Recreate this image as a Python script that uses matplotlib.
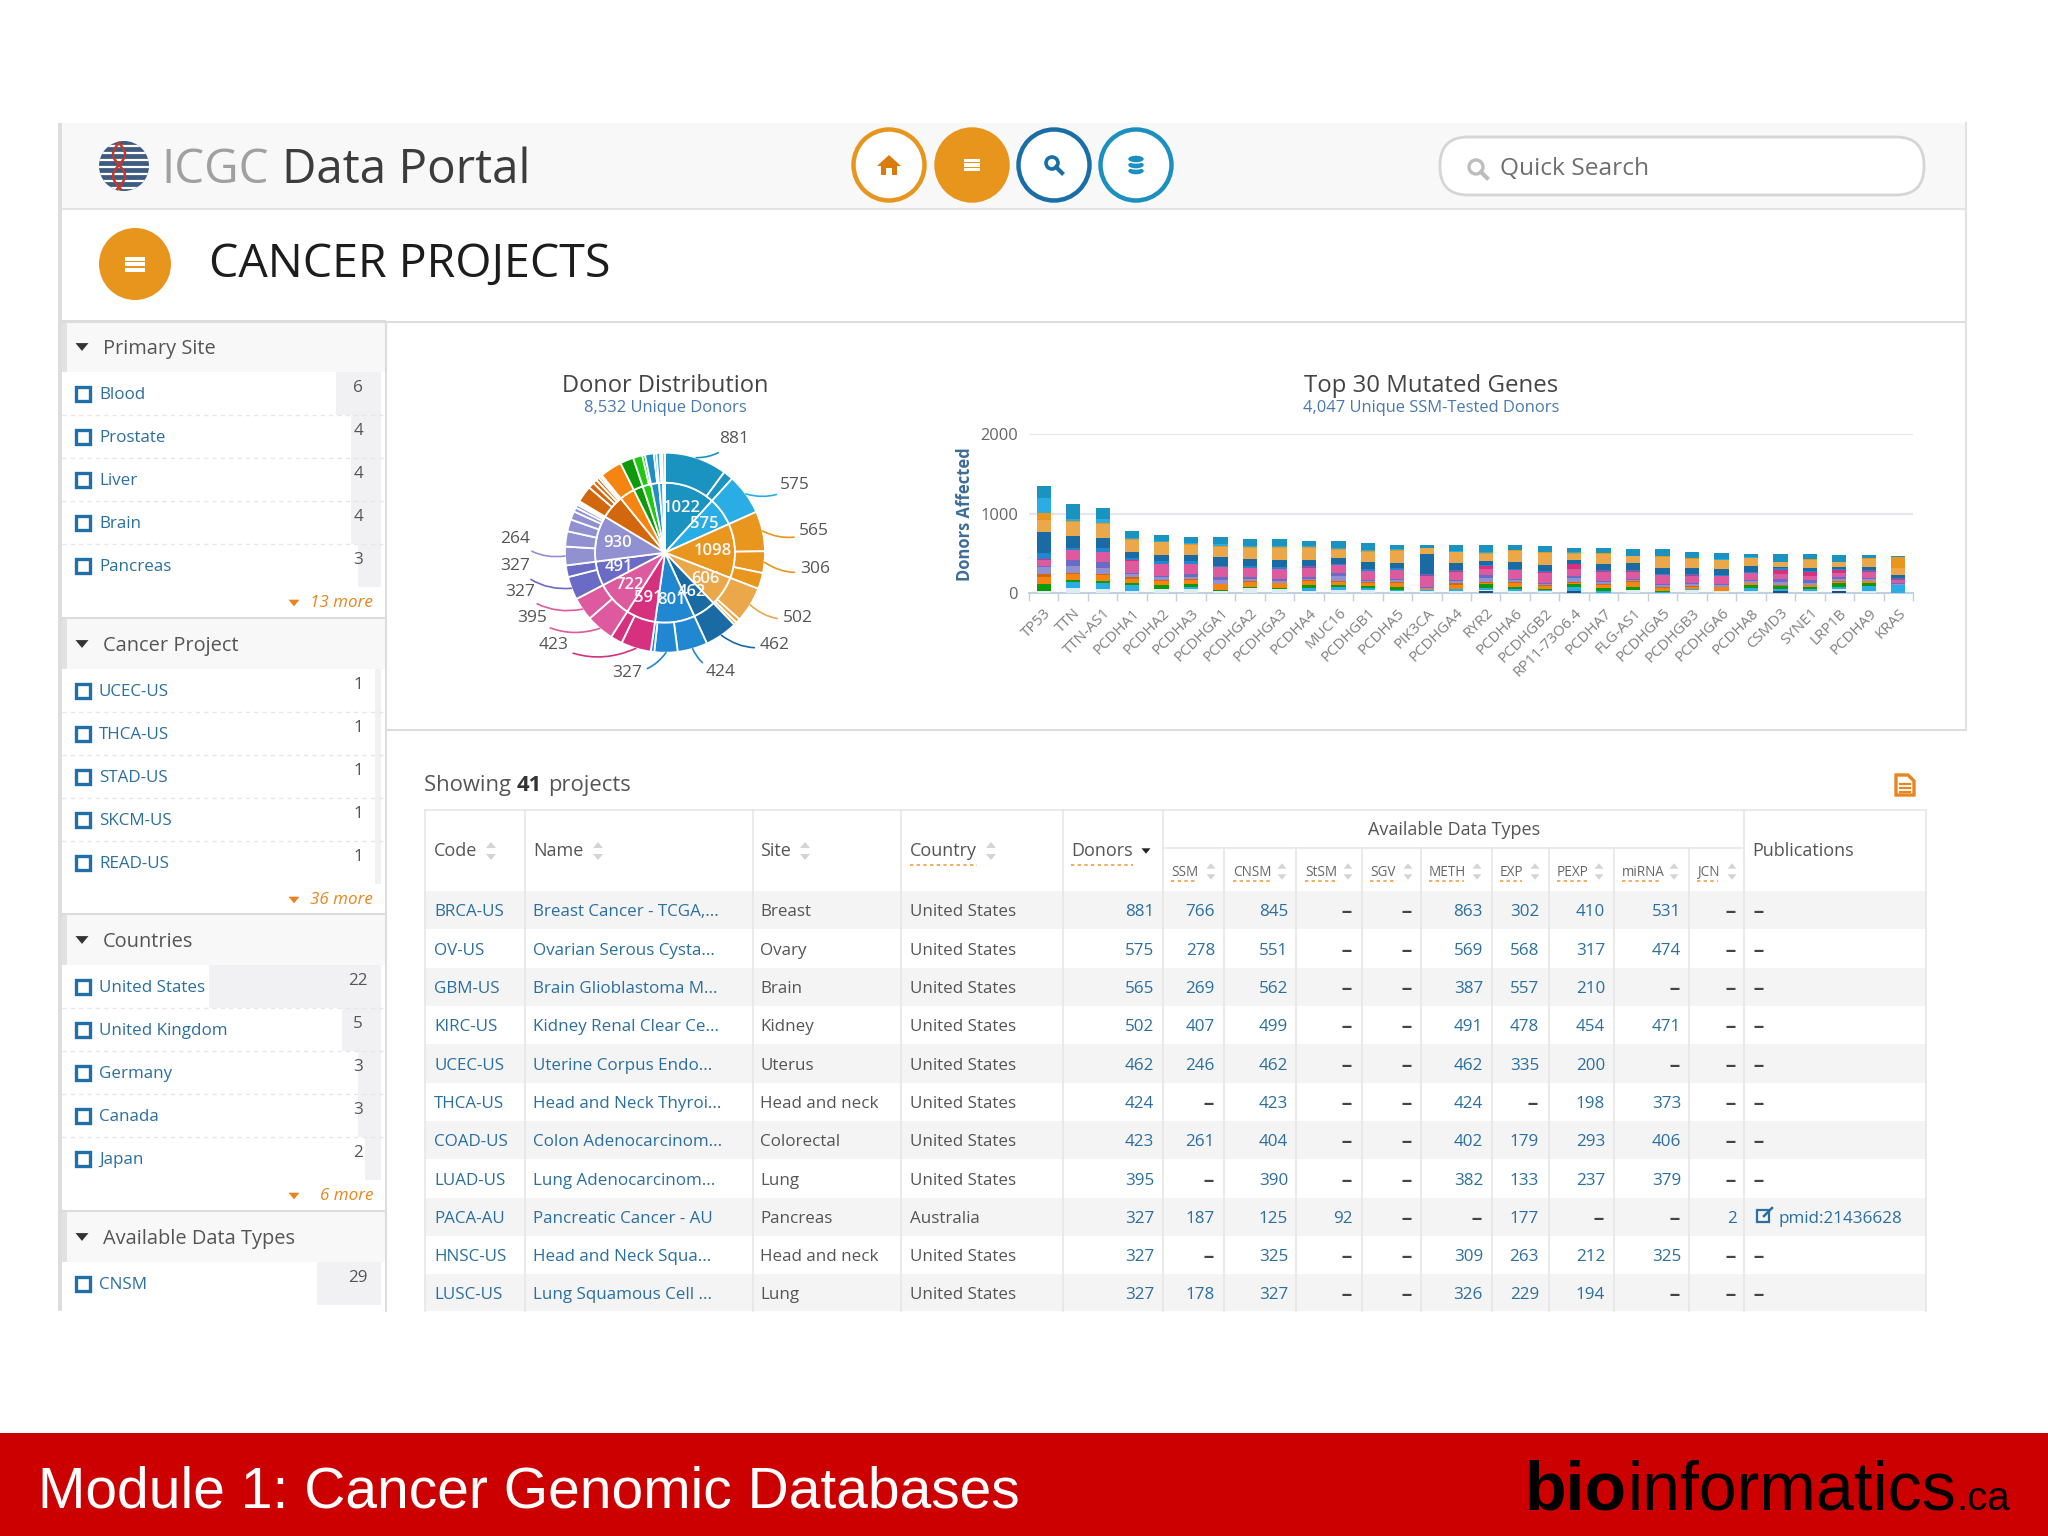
import numpy as np
import matplotlib
matplotlib.use("Agg")
import matplotlib.pyplot as plt
from matplotlib.patches import Rectangle, Circle, Polygon, FancyBboxPatch, Ellipse

# sidebar
site_items = ["Blood", "Prostate", "Liver", "Brain", "Pancreas"]
site_counts = [6, 4, 4, 4, 3]
project_items = ["UCEC-US", "THCA-US", "STAD-US", "SKCM-US", "READ-US"]
project_counts = [1, 1, 1, 1, 1]
country_items = ["United States", "United Kingdom", "Germany", "Canada", "Japan"]
country_counts = [22, 5, 3, 3, 2]
type_items = ["CNSM"]
type_counts = [29]

# donut, inner ring is primary site, outer ring the projects in it
inner_labels = [1022, 575, 1098, 606, 462, 801, 591, 722, 491, 930, "", "", "", "", "", "", ""]
outer_groups = [[881, 141], [575], [565, 306, 227], [502, 62, 42], [462], [424, 327, 50],
                [423, 168], [395, 327], [327, 164], [264, 215, 170, 120, 60, 45, 30, 26],
                [235, 85, 60, 45, 30, 25], [310], [190], [130, 40], [125, 35], [50, 30], [40]]
group_colors = ["#1b93c0", "#29ade4", "#e8961e", "#eaa84a", "#1a6aa3", "#2187d0", "#d6317f", "#de5a9e",
                "#6a6bc4", "#9191d2", "#d2670d", "#f58410", "#0e9a0b", "#20c90f", "#1f8ec4", "#2aa8e0", "#eaa84a"]

# stacked bars
genes = ["TP53", "TTN", "TTN-AS1", "PCDHA1", "PCDHA2", "PCDHA3", "PCDHGA1", "PCDHGA2", "PCDHGA3", "PCDHA4",
         "MUC16", "PCDHGB1", "PCDHA5", "PIK3CA", "PCDHGA4", "RYR2", "PCDHA6", "PCDHGB2", "RP11-73O6.4", "PCDHA7",
         "FLG-AS1", "PCDHGA5", "PCDHGB3", "PCDHGA6", "PCDHA8", "CSMD3", "SYNE1", "LRP1B", "PCDHA9", "KRAS"]
s_blue = [150, 190, 130, 90, 80, 80, 95, 95, 95, 75, 100, 95, 50, 30, 75, 85, 60, 70, 60, 65, 80, 85, 80, 75, 40, 95, 60, 80, 35, 15]
s_sky = [190, 15, 55, 10, 5, 10, 20, 5, 5, 5, 10, 5, 10, 5, 5, 10, 5, 5, 5, 5, 5, 5, 5, 5, 5, 5, 5, 5, 5, 5]
s_orange = [95, 15, 10, 10, 5, 10, 15, 10, 10, 10, 15, 10, 10, 5, 10, 15, 10, 10, 10, 5, 5, 5, 5, 5, 5, 5, 15, 5, 5, 130]
s_lorange = [150, 175, 175, 150, 160, 130, 125, 140, 150, 150, 90, 125, 150, 70, 130, 85, 140, 145, 80, 130, 85, 140, 110, 115, 95, 55, 95, 60, 100, 90]
s_dblue = [260, 150, 135, 80, 80, 80, 110, 85, 90, 80, 75, 90, 70, 255, 85, 55, 85, 75, 45, 75, 90, 75, 85, 75, 75, 20, 35, 20, 45, 45]
s_mblue = [75, 30, 45, 30, 30, 30, 15, 25, 25, 15, 15, 25, 20, 10, 15, 10, 10, 15, 10, 15, 5, 10, 10, 10, 15, 25, 20, 10, 10, 10]
s_magenta = [15, 5, 5, 5, 5, 5, 5, 5, 5, 5, 5, 5, 5, 5, 10, 35, 5, 10, 55, 10, 10, 5, 5, 5, 5, 50, 45, 45, 5, 10]
s_pink = [70, 125, 120, 150, 150, 130, 120, 120, 130, 125, 100, 110, 110, 145, 110, 75, 110, 125, 85, 110, 95, 110, 95, 100, 90, 60, 55, 50, 85, 45]
s_indigo = [20, 75, 70, 15, 15, 30, 40, 15, 15, 15, 40, 15, 15, 10, 15, 45, 15, 15, 35, 15, 15, 15, 15, 15, 15, 35, 35, 20, 15, 10]
s_lav = [85, 80, 75, 40, 35, 30, 50, 30, 25, 20, 55, 15, 25, 10, 25, 50, 25, 20, 50, 30, 15, 25, 25, 15, 20, 45, 25, 35, 20, 5]
s_dorange = [35, 15, 15, 30, 15, 15, 5, 10, 10, 10, 15, 15, 10, 5, 15, 10, 5, 10, 10, 5, 10, 10, 5, 5, 5, 5, 5, 5, 5, 0]
s_orange2 = [90, 80, 75, 50, 50, 45, 70, 60, 55, 45, 45, 30, 50, 10, 50, 15, 50, 35, 10, 45, 65, 35, 25, 50, 25, 5, 15, 10, 20, 5]
s_dgreen = [85, 25, 25, 15, 50, 45, 10, 15, 15, 45, 15, 25, 35, 5, 5, 45, 35, 15, 40, 30, 30, 20, 10, 5, 35, 40, 30, 50, 35, 5]
s_sky2 = [5, 70, 85, 75, 5, 25, 5, 5, 5, 30, 45, 30, 15, 5, 25, 25, 25, 5, 45, 25, 5, 5, 5, 0, 30, 15, 20, 35, 65, 95]
s_pale = [25, 65, 45, 30, 45, 45, 25, 60, 45, 30, 35, 35, 25, 30, 25, 15, 20, 30, 0, 5, 35, 5, 40, 20, 30, 0, 30, 20, 25, 0]
s_navy = [0, 0, 0, 0, 0, 0, 0, 0, 0, 0, 0, 0, 0, 0, 0, 25, 0, 0, 30, 0, 0, 0, 0, 0, 0, 30, 0, 25, 0, 0]

# table
codes = ["BRCA-US", "OV-US", "GBM-US", "KIRC-US", "UCEC-US", "THCA-US", "COAD-US", "LUAD-US", "PACA-AU", "HNSC-US", "LUSC-US"]
names = ["Breast Cancer - TCGA,...", "Ovarian Serous Cysta...", "Brain Glioblastoma M...", "Kidney Renal Clear Ce...",
         "Uterine Corpus Endo...", "Head and Neck Thyroi...", "Colon Adenocarcinom...", "Lung Adenocarcinom...",
         "Pancreatic Cancer - AU", "Head and Neck Squa...", "Lung Squamous Cell ..."]
sites = ["Breast", "Ovary", "Brain", "Kidney", "Uterus", "Head and neck", "Colorectal", "Lung", "Pancreas", "Head and neck", "Lung"]
countries = ["United States"] * 8 + ["Australia"] + ["United States"] * 2
donors = [881, 575, 565, 502, 462, 424, 423, 395, 327, 327, 327]
ssm = [766, 278, 269, 407, 246, "--", 261, "--", 187, "--", 178]
cnsm = [845, 551, 562, 499, 462, 423, 404, 390, 125, 325, 327]
stsm = ["--", "--", "--", "--", "--", "--", "--", "--", 92, "--", "--"]
sgv = ["--"] * 11
meth = [863, 569, 387, 491, 462, 424, 402, 382, "--", 309, 326]
exp_ = [302, 568, 557, 478, 335, "--", 179, 133, 177, 263, 229]
pexp = [410, 317, 210, 454, 200, 198, 293, 237, "--", 212, 194]
mirna = [531, 474, "--", 471, "--", 373, 406, 379, "--", 325, "--"]
jcn = ["--", "--", "--", "--", "--", "--", "--", "--", 2, "--", "--"]

BLUE = "#2a6f9f"
ORANGE = "#e8951e"
GREY = "#555555"
plt.rcParams["font.family"] = ["Open Sans", "DejaVu Sans"]

fig = plt.figure(figsize=(20.48, 15.36), dpi=100, facecolor="white")
ax = fig.add_axes([0, 0, 1, 1])
ax.set_xlim(0, 2048)
ax.set_ylim(1536, 0)
ax.axis("off")


def txt(x, y, s, px, color=GREY, ha="left", **kw):
    # open sans sits a bit high with va=center
    return ax.text(x, y + 0.12 * px, s, fontsize=px * 0.72, color=color, ha=ha, va="center", **kw)


def rect(x0, y0, x1, y1, color, **kw):
    ax.add_patch(Rectangle((x0, y0), x1 - x0, y1 - y0, facecolor=color, edgecolor="none", **kw))


def tri(x, y, size, color, up=False):
    s = -1 if up else 1
    ax.add_patch(Polygon([(x - size, y - s * size * 0.6), (x + size, y - s * size * 0.6), (x, y + s * size * 0.6)],
                         facecolor=color, edgecolor="none"))


def burger(x, y, w, color="white"):
    for dy in (-w * 0.55, 0, w * 0.55):
        rect(x - w, y + dy - w * 0.2, x + w, y + dy + w * 0.2, color)


def after(t, x, y, s, px, color, **kw):
    # next piece of text, placed right after t
    fig.canvas.draw()
    bb = t.get_window_extent()
    return txt(bb.x1 + x, y, s, px, color, **kw)


# frame
rect(58, 123, 1966, 209, "#f8f8f8")
rect(58, 123, 62, 1311, "#dddddd")
ax.plot([62, 1966], [209, 209], color="#e4e4e4", lw=1.5)
ax.plot([62, 1966], [322, 322], color="#dcdcdc", lw=1.5)
ax.plot([1966, 1966], [123, 730], color="#e2e2e2", lw=1.5)
ax.plot([386, 386], [322, 1311], color="#dcdcdc", lw=1.5)
ax.plot([386, 1966], [730, 730], color="#dcdcdc", lw=1.5)

# logo
globe = Circle((124, 166), 25, facecolor="#3d5a80", edgecolor="none")
ax.add_patch(globe)
for yy in np.arange(146, 190, 7):
    ln, = ax.plot([95, 153], [yy, yy], color="white", lw=1.6)
    ln.set_clip_path(globe)
hy = np.linspace(143, 189, 60)
ax.plot(119 + 6 * np.sin((hy - 143) / 7), hy, color="#c0392b", lw=1.8)
ax.plot(119 - 6 * np.sin((hy - 143) / 7), hy, color="#c0392b", lw=1.8)
t = txt(161, 165, "ICGC", 47.5, "#a0a0a0")
after(t, 13, 165, "Data Portal", 47.5, "#3c3c3c")

# nav buttons
for cx, edge, fill in [(889, ORANGE, "white"), (972, ORANGE, ORANGE), (1054, "#1a6ea8", "white"), (1136, "#1a8fc0", "white")]:
    ax.add_patch(Circle((cx, 165), 35.5, facecolor=fill, edgecolor=edge, lw=3.2))
ax.add_patch(Polygon([(889, 155), (901, 166), (897, 166), (897, 175), (892, 175), (892, 168), (886, 168), (886, 175), (881, 175), (881, 166), (877, 166)],
                     facecolor="#d97c0f", edgecolor="none"))
burger(972, 165, 8)
ax.add_patch(Circle((1052, 163), 6, facecolor="none", edgecolor="#1a6ea8", lw=2.6))
ax.plot([1056, 1062], [167, 173], color="#1a6ea8", lw=3)
for yy in (171, 165, 159):
    ax.add_patch(Ellipse((1136, yy), 17, 8, facecolor="#1a8fc0", edgecolor="white", lw=1))

# search
ax.add_patch(FancyBboxPatch((1440, 137), 484, 58, boxstyle="round,pad=0,rounding_size=28", facecolor="white", edgecolor="#d5d5d5", lw=2))
ax.add_patch(Circle((1476, 167), 7, facecolor="none", edgecolor="#bdbdbd", lw=2.4))
ax.plot([1481, 1487], [172, 178], color="#bdbdbd", lw=3)
txt(1500, 166, "Quick Search", 24.5, "#6f6f6f")

# page title
ax.add_patch(Circle((135, 264), 36, facecolor=ORANGE, edgecolor="none"))
burger(135, 264, 10)
txt(209, 259, "CANCER PROJECTS", 46.5, "#1c1c1c")

# sidebar sections
sections = [("Primary Site", 347, site_items, site_counts, [336, 351, 351, 351, 358], "13 more"),
            ("Cancer Project", 644, project_items, project_counts, [375, 375, 375, 375, 375], "36 more"),
            ("Countries", 940, country_items, country_counts, [209, 342, 358, 358, 365], "6 more"),
            ("Available Data Types", 1237, type_items, type_counts, [317], None)]
for title, hy0, items, counts, starts, more in sections:
    rect(62, hy0 - 26, 385, hy0 + 25, "#f8f8f8")
    rect(62, hy0 - 26, 67, hy0 + 25, "#e2e2e2")
    ax.plot([62, 385], [hy0 - 26, hy0 - 26], color="#dcdcdc", lw=1.5)
    tri(82, hy0, 6.5, "#333333")
    txt(103, hy0, title, 20, "#555555")
    for i, (item, n, x0) in enumerate(zip(items, counts, starts)):
        y = hy0 + 46 + 43 * i
        rect(x0, y - 21, 381, min(y + 22, 1311), "#f1f1f3")
        ax.add_patch(Rectangle((76, y - 6), 14, 14, facecolor="white", edgecolor="#1f6fa8", lw=2.4))
        txt(99, y, item, 17, BLUE)
        txt(358, y - 7, str(n), 17, "#555555", ha="center")
        if i < len(items) - 1:
            ax.plot([62, 385], [y + 22, y + 22], color="#e6e6e6", lw=1, ls=(0, (3, 3)))
    if more:
        tri(294, hy0 + 256, 5.5, "#e8851e")
        txt(373, hy0 + 254, more, 17, "#e8851e", ha="right", style="italic")

# chart titles
txt(665, 383, "Donor Distribution", 23.6, "#444444", ha="center")
txt(665, 406, "8,532 Unique Donors", 16.5, "#4a79ad", ha="center")
txt(1431, 383, "Top 30 Mutated Genes", 24, "#444444", ha="center")
txt(1431, 406, "4,047 Unique SSM-Tested Donors", 16.5, "#4a79ad", ha="center")

# table frame
row_edges = [891, 929, 968, 1006, 1044, 1083, 1121, 1159, 1198, 1236, 1274, 1311]
for i in range(0, 11, 2):
    rect(425, row_edges[i], 1926, row_edges[i + 1], "#f4f4f5")
col_lines = [425, 525, 753, 901, 1063, 1163, 1744, 1926]
for x in col_lines:
    ax.plot([x, x], [810, 1311], color="#e6e6e6", lw=1.2)
for x in [1224, 1296, 1362, 1421, 1492, 1549, 1614, 1689]:
    ax.plot([x, x], [848, 1311], color="#e6e6e6", lw=1.2)
ax.plot([425, 1926], [810, 810], color="#e6e6e6", lw=1.2)
ax.plot([1163, 1744], [848, 848], color="#e6e6e6", lw=1.2)

t = txt(424, 783, "Showing ", 22, "#555555")
t = after(t, 0, 783, "41", 22, "#333333", weight="bold")
after(t, 6, 783, "projects", 22, "#555555")
ax.add_patch(Polygon([(1896, 775), (1908, 775), (1914, 781), (1914, 795), (1896, 795)], facecolor="white", edgecolor="#e8851e", lw=2.4))
for yy in (784, 788, 792):
    ax.plot([1900, 1910], [yy, yy], color="#e8851e", lw=1.6)

# table head
for label, x, sx in [("Code", 434, 491), ("Name", 533, 598), ("Site", 760, 805), ("Country", 910, 991)]:
    txt(x, 849, label, 18, "#555555")
    tri(sx, 845, 5, "#d4d4d4", up=True)
    tri(sx, 857, 5, "#d4d4d4")
txt(1071, 849, "Donors", 18, "#555555")
tri(1146, 851, 4.5, "#222222")
txt(1752, 849, "Publications", 18, "#555555")
txt(1454, 828, "Available Data Types", 18, "#555555", ha="center")
ax.plot([910, 977], [865, 865], color="#f0a040", lw=1.2, ls=(0, (2, 2)))
ax.plot([1071, 1133], [865, 865], color="#f0a040", lw=1.2, ls=(0, (2, 2)))
sub_cols = [("SSM", 1171, 1211, 26), ("CNSM", 1233, 1282, 37), ("StSM", 1305, 1348, 31), ("SGV", 1370, 1408, 25),
            ("METH", 1429, 1477, 35), ("EXP", 1500, 1535, 22), ("PEXP", 1557, 1599, 30), ("miRNA", 1622, 1674, 40), ("JCN", 1697, 1732, 21)]
for label, x, sx, w in sub_cols:
    txt(x, 871, label, 13.5, "#666666")
    ax.plot([x, x + w], [881, 881], color="#f0a040", lw=1.2, ls=(0, (2, 2)))
    tri(sx, 866, 4.5, "#d4d4d4", up=True)
    tri(sx, 877, 4.5, "#d4d4d4")

# table body
num_cols = [(donors, 1154), (ssm, 1215), (cnsm, 1288), (stsm, 1353), (sgv, 1413), (meth, 1483), (exp_, 1539), (pexp, 1605), (mirna, 1681), (jcn, 1737)]
for i in range(11):
    y = (row_edges[i] + row_edges[i + 1]) / 2
    txt(434, y, codes[i], 17, BLUE)
    txt(533, y, names[i], 17, BLUE)
    txt(760, y, sites[i], 17, "#555555")
    txt(910, y, countries[i], 17, "#555555")
    for col, right in num_cols:
        v = col[i]
        if v == "--":
            txt(right, y, "--", 17, "#444444", ha="right", weight="bold")
        else:
            txt(right, y, str(v), 17, BLUE, ha="right")
    if i == 8:
        ax.add_patch(Rectangle((1757, y - 7), 12, 12, facecolor="none", edgecolor=BLUE, lw=1.6))
        ax.plot([1764, 1772], [y - 1, y - 9], color=BLUE, lw=1.8)
        txt(1778, y, "pmid:21436628", 17, BLUE)
    else:
        txt(1754, y, "--", 17, "#444444", weight="bold")

# footer band
rect(0, 1433, 2048, 1536, "#cc0000")
ax.text(38, 1492, "Module 1: Cancer Genomic Databases", fontsize=41, color="white", family="Liberation Sans", va="center")
t = ax.text(1525, 1492, "bio", fontsize=49, color="black", family="Liberation Sans", weight="bold", va="center")
fig.canvas.draw()
bb = t.get_window_extent()
t = ax.text(bb.x1, 1492, "informatics", fontsize=49, color="black", family="Liberation Sans", va="center")
fig.canvas.draw()
bb = t.get_window_extent()
ax.text(bb.x1, 1499, ".ca", fontsize=29, color="black", family="Liberation Sans", va="center")

# donut
cx, cy, half = 665, 552.7, 165
pie_ax = fig.add_axes([(cx - half) / 2048, 1 - (cy + half) / 1536, 2 * half / 2048, 2 * half / 1536])
pie_ax.patch.set_alpha(0)
inner_values = [sum(g) for g in outer_groups]
outer_values = [v for g in outer_groups for v in g]
outer_colors = [c for g, c in zip(outer_groups, group_colors) for v in g]
wedge_style = dict(edgecolor="white", linewidth=1.3)
pie_ax.pie(inner_values, radius=0.7, colors=group_colors, startangle=90, counterclock=False, wedgeprops=dict(width=0.7, **wedge_style))
wedges, _ = pie_ax.pie(outer_values, radius=1.0, colors=outer_colors, startangle=90, counterclock=False, wedgeprops=dict(width=0.3, **wedge_style))
pie_ax.set_xlim(-half / 100, half / 100)
pie_ax.set_ylim(-half / 100, half / 100)

pos = 0
total = sum(inner_values)
for v, lab in zip(inner_values, inner_labels):
    mid = (pos + v / 2) / total * 2 * np.pi
    if lab != "":
        pie_ax.text(0.48 * np.sin(mid), 0.48 * np.cos(mid), str(lab), color="#fbfbfb", fontsize=12, ha="center", va="center", weight="semibold")
    pos += v

label_px = [(734, 439), (795, 485), (814, 531), (815, 569), (798, 618), (775, 645), (721, 672),
            (627, 673), (554, 645), (532, 618), (520, 592), (515, 566), (515, 539)]
big = [(w, v) for w, v in zip(wedges, outer_values) if v >= 264][:len(label_px)]
for (w, v), (lx, ly) in zip(big, label_px):
    a = np.deg2rad((w.theta1 + w.theta2) / 2)
    px_, py_ = (lx - cx) / 100, (cy - ly) / 100
    rad = -0.25 if px_ > 0 else 0.25
    pie_ax.annotate("", xy=(np.cos(a), np.sin(a)), xytext=(px_, py_),
                    arrowprops=dict(arrowstyle="-", color=w.get_facecolor(), lw=1.2, connectionstyle="arc3,rad=%.2f" % rad, shrinkA=15, shrinkB=0))
    pie_ax.text(px_, py_, str(v), fontsize=12.5, color="#555555", ha="center", va="center")

# stacked bar chart, y px: 0 at 593, 2000 at 434
bar_ax = fig.add_axes([1029 / 2048, 1 - 593 / 1536, (1913 - 1029) / 2048, (593 - 434) / 1536])
bar_ax.patch.set_alpha(0)
stack = [(s_navy, "#1c4f7c"), (s_pale, "#dcebf4"), (s_sky2, "#29ade4"), (s_dgreen, "#0e9a0b"), (s_orange2, "#f58410"), (s_dorange, "#d2670d"),
         (s_lav, "#9191d2"), (s_indigo, "#6a6bc4"), (s_pink, "#de5a9e"), (s_magenta, "#d6317f"), (s_mblue, "#2187d0"), (s_dblue, "#1a6aa3"),
         (s_lorange, "#eaa84a"), (s_orange, "#e8961e"), (s_sky, "#29ade4"), (s_blue, "#1b93c0")]
x = np.arange(len(genes))
bottom = np.zeros(len(genes))
for vals, col in stack:
    bar_ax.bar(x, vals, 0.485, bottom=bottom, color=col, edgecolor="none", zorder=3)
    bottom += np.array(vals)
bar_ax.set_xlim(-0.5, len(genes) - 0.5)
bar_ax.set_ylim(0, 2000)
bar_ax.set_yticks([0, 1000, 2000])
bar_ax.tick_params(axis="y", length=0, labelsize=11.8, labelcolor="#666666", pad=8)
bar_ax.grid(axis="y", color="#e6e6ee", lw=1.6, zorder=0)
bar_ax.set_xticks(x)
bar_ax.set_xticklabels(genes, rotation=45, ha="right", rotation_mode="anchor", fontsize=10.8, color="#808080")
bar_ax.set_xticks(np.arange(-0.5, len(genes)), minor=True)
bar_ax.tick_params(axis="x", which="major", length=0, pad=9)
bar_ax.tick_params(axis="x", which="minor", length=6, color="#c0d0e0", width=1)
for side in ("top", "left", "right"):
    bar_ax.spines[side].set_visible(False)
bar_ax.spines["bottom"].set_color("#c0d0e0")
bar_ax.spines["bottom"].set_linewidth(1.4)
txt(965, 512, "Donors Affected", 16.5, "#3d6d96", ha="center", rotation=90, weight="bold")

fig.savefig("out.png", dpi=100)
